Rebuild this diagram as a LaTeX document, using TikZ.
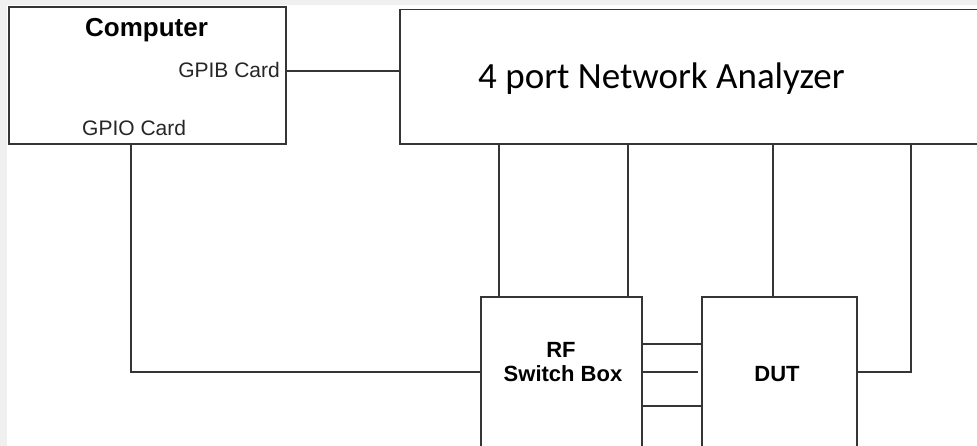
\documentclass[tikz,border=0pt]{standalone}
\usepackage{fontspec}
\setmainfont{Liberation Sans}
\newfontfamily\calibri{Carlito}
\definecolor{lc}{HTML}{353535}
\definecolor{bgc}{HTML}{F0F0F0}
\begin{document}
\begin{tikzpicture}[x=1pt,y=-1pt,
  box/.style={draw=lc, line width=1.8pt, fill=white, inner sep=0pt, rectangle},
  wire/.style={draw=lc, line width=1.8pt},
  lbl/.style={inner sep=0pt, text=black}]
\useasboundingbox (0,0) rectangle (977,446);
\clip (0,0) rectangle (977,446);
\fill[bgc] (0,0) rectangle (977,446);
\fill[white] (7,5) rectangle (977,446);

% helper coordinates
\coordinate (gy) at (0,71);
\coordinate (ly) at (0,372);
\coordinate (y1) at (0,344);
\coordinate (y3) at (0,406);
\coordinate (gx) at (131,0);
\coordinate (p1) at (499,0);
\coordinate (p2) at (628,0);
\coordinate (p3) at (773,0);
\coordinate (p4) at (911,0);
\coordinate (mend) at (698,372);

% boxes
\node[box, minimum width=277pt, minimum height=137pt] (comp) at (147.5,75.5) {};
\node[box, minimum width=600pt, minimum height=134.5pt] (na) at (700,76.75) {};
\node[box, minimum width=161pt, minimum height=163pt] (sw) at (561.5,378.5) {};
\node[box, minimum width=155pt, minimum height=163pt] (dut) at (779.5,378.5) {};

% wires
\draw[wire] (comp.east |- gy) -- (na.west |- gy);
\draw[wire] (comp.south -| gx) -- (gx |- ly) -- (sw.west |- ly);
\draw[wire] (na.south -| p1) -- (sw.north -| p1);
\draw[wire] (na.south -| p2) -- (sw.north -| p2);
\draw[wire] (na.south -| p3) -- (dut.north -| p3);
\draw[wire] (na.south -| p4) -- (p4 |- ly) -- (dut.east |- ly);
\draw[wire] (sw.east |- y1) -- (dut.west |- y1);
\draw[wire] (sw.east |- ly) -- (mend);
\draw[wire] (sw.east |- y3) -- (dut.west |- y3);

% labels
\node[lbl, anchor=base, font=\bfseries\fontsize{26}{30}\selectfont] (tcomp) at (146.5,37) {Computer};
\node[lbl, anchor=base east, font=\fontsize{21}{25}\selectfont, text=black!85] (tgpib) at (280,78) {GPIB Card};
\node[lbl, anchor=base west, font=\fontsize{21}{25}\selectfont, text=black!85] (tgpio) at (82,136) {GPIO Card};
\node[lbl, anchor=base west, font=\calibri\fontsize{37}{44}\selectfont] (tna) at (478,89) {4 port Network Analyzer};
\node[lbl, anchor=base, font=\bfseries\fontsize{22}{26}\selectfont] (trf) at (561,357) {RF};
\node[lbl, anchor=base, font=\bfseries\fontsize{22}{26}\selectfont] (tsw) at (563,381.5) {Switch Box};
\node[lbl, anchor=base, font=\bfseries\fontsize{22}{26}\selectfont] (tdut) at (777,381) {DUT};
\end{tikzpicture}
\end{document}
